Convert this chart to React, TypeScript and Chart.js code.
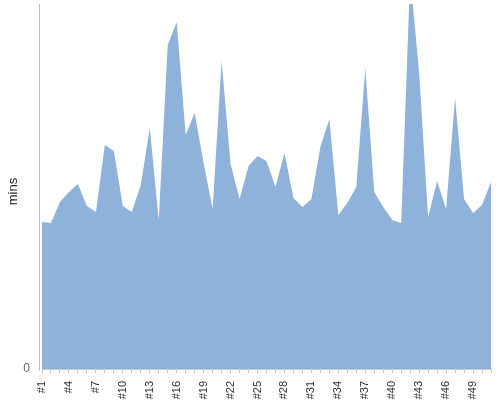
import { useEffect, useRef } from 'react';
import { Chart, registerables } from 'chart.js';

Chart.register(...registerables);

const categories = [
  '#1', '#2', '#3', '#4', '#5', '#6', '#7', '#8', '#9', '#10',
  '#11', '#12', '#13', '#14', '#15', '#16', '#17', '#18', '#19', '#20',
  '#21', '#22', '#23', '#24', '#25', '#26', '#27', '#28', '#29', '#30',
  '#31', '#32', '#33', '#34', '#35', '#36', '#37', '#38', '#39', '#40',
  '#41', '#42', '#43', '#44', '#45', '#46', '#47', '#48', '#49', '#50',
  '#51',
];

const minutes = [
  14.7, 14.6, 16.7, 17.7, 18.5, 16.3, 15.7, 22.4, 21.8, 16.3,
  15.7, 18.4, 24.1, 14.9, 32.4, 34.7, 23.4, 25.6, 20.6, 16.0,
  30.8, 20.5, 17.0, 20.3, 21.3, 20.8, 18.2, 21.6, 17.1, 16.2,
  17.0, 22.2, 25.0, 15.4, 16.6, 18.2, 30.1, 17.7, 16.2, 14.9,
  14.6, 39.3, 29.6, 15.2, 18.8, 16.0, 27.1, 17.0, 15.6, 16.4,
  18.7,
];

const yTicks = [0];
const yMax = 36.5;
const labelEvery = 3;
const yTitle = 'mins';

const FONT = "'Liberation Sans', Arial, sans-serif";

const yAxisDecor = {
  id: 'yAxisDecor',
  afterDraw(chart: any) {
    const { ctx, chartArea } = chart;
    ctx.save();
    ctx.strokeStyle = '#bdbdbd';
    ctx.lineWidth = 1;
    ctx.beginPath();
    const x = Math.round(chartArea.left - 3) + 0.5;
    ctx.moveTo(x, chartArea.top);
    ctx.lineTo(x, chartArea.bottom + 2);
    ctx.stroke();
    // axis title
    ctx.fillStyle = '#222';
    ctx.font = `13px ${FONT}`;
    ctx.textAlign = 'center';
    ctx.textBaseline = 'middle';
    ctx.translate(chartArea.left - 29, (chartArea.top + chartArea.bottom) / 2 + 5);
    ctx.rotate(-Math.PI / 2);
    ctx.fillText(yTitle, 0, 0);
    ctx.restore();
  },
};

export default function App() {
  const ref = useRef<HTMLCanvasElement | null>(null);

  useEffect(() => {
    document.body.style.margin = '0';
    const canvas = ref.current;
    if (!canvas) return;
    const chart = new Chart(canvas, {
      type: 'line',
      data: {
        labels: categories,
        datasets: [
          {
            label: yTitle,
            data: minutes,
            fill: 'origin',
            backgroundColor: '#8fb2db',
            borderColor: '#8fb2db',
            borderWidth: 0,
            pointRadius: 0,
            tension: 0,
          },
        ],
      },
      options: {
        animation: false,
        responsive: false,
        maintainAspectRatio: false,
        layout: { padding: { top: 4, right: 9, left: 1, bottom: 0 } },
        plugins: {
          legend: { display: false },
          tooltip: { enabled: false },
        },
        scales: {
          x: {
            type: 'category',
            offset: false,
            afterFit: (s: any) => {
              s.height = 31;
              s.paddingLeft = 0;
              s.paddingRight = 0;
              s.paddingTop = 0;
              s.paddingBottom = 0;
            },
            grid: {
              display: true,
              drawOnChartArea: false,
              drawTicks: true,
              tickLength: 4,
              color: '#c8c8c8',
            },
            border: { display: true, color: '#c8c8c8' },
            ticks: {
              autoSkip: false,
              maxRotation: 90,
              minRotation: 90,
              padding: 8,
              color: '#333',
              font: { family: FONT, size: 11 },
              callback: (_v: any, i: number) =>
                i % labelEvery === 0 ? categories[i] : '',
            },
          },
          y: {
            min: 0,
            max: yMax,
            afterBuildTicks: (scale: any) => {
              scale.ticks = yTicks.map((v) => ({ value: v }));
            },
            afterFit: (s: any) => {
              s.width = 41;
              s.paddingLeft = 0;
              s.paddingRight = 0;
              s.paddingTop = 0;
              s.paddingBottom = 0;
            },
            grid: { display: false, drawTicks: false },
            border: { display: false },
            ticks: {
              padding: 12,
              color: '#666',
              font: { family: FONT, size: 12 },
            },
          },
        },
      },
      plugins: [yAxisDecor],
    });
    return () => chart.destroy();
  }, []);

  return <canvas ref={ref} width={500} height={400} style={{ display: 'block' }} />;
}
